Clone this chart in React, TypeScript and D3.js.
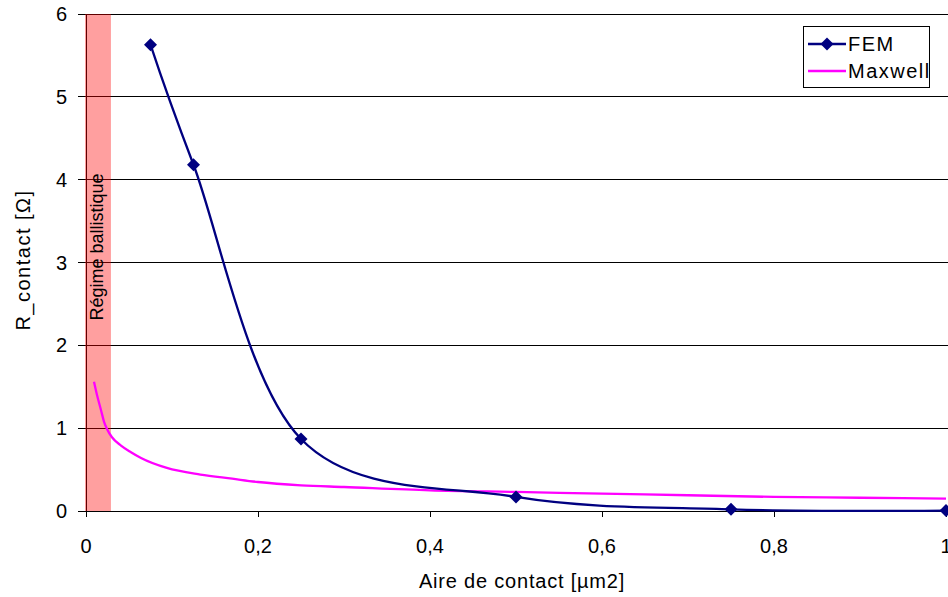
import React from "react";
import * as d3 from "d3";

const yTicks = [0, 1, 2, 3, 4, 5, 6];
const xTicks = [0, 0.2, 0.4, 0.6, 0.8, 1];
const xTickLabels = ["0", "0,2", "0,4", "0,6", "0,8", "1"];

const femX = [0.075, 0.125, 0.25, 0.5, 0.75, 1.0];
const femY = [5.63, 4.18, 0.87, 0.17, 0.02, 0.005];

const maxwellX = [0.0093, 0.0128, 0.0174, 0.0209, 0.0244, 0.0302, 0.0407, 0.0523, 0.064, 0.094, 0.133, 0.17, 0.2, 0.25, 0.3, 0.4, 0.5, 0.6, 0.7, 0.8, 0.9, 1.0];
const maxwellY = [1.56, 1.4, 1.22, 1.08, 0.99, 0.89, 0.79, 0.71, 0.64, 0.52, 0.44, 0.39, 0.35, 0.31, 0.29, 0.25, 0.23, 0.21, 0.19, 0.17, 0.16, 0.15];

const bandRange = [0, 0.029];

const seriesNames = ["FEM", "Maxwell"];
const xTitle = "Aire de contact [µm2]";
const yTitle = "R_contact [Ω]";
const bandLabel = "Régime ballistique";

const W = 948;
const H = 597;
const FONT = "'Liberation Sans', Arial, sans-serif";
const NAVY = "#000080";
const MAGENTA = "#FF00FF";

export default function App() {
  const x = d3.scaleLinear().domain([0, 1]).range([86, 946]);
  const y = d3.scaleLinear().domain([0, 6]).range([511, 14]);

  const fem = femX.map((v, i) => [v, femY[i]] as [number, number]);
  const maxwell = maxwellX.map((v, i) => [v, maxwellY[i]] as [number, number]);

  const femLine = d3
    .line<[number, number]>()
    .x((d) => x(d[0]))
    .y((d) => y(d[1]))
    .curve(d3.curveCardinal.tension(0));
  const maxLine = d3
    .line<[number, number]>()
    .x((d) => x(d[0]))
    .y((d) => y(d[1]))
    .curve(d3.curveMonotoneX);

  const diamond = (cx: number, cy: number, r = 6.5) =>
    `M${cx},${cy - r}L${cx + r},${cy}L${cx},${cy + r}L${cx - r},${cy}Z`;

  return (
    <svg
      width={W}
      height={H}
      style={{ position: "absolute", left: 0, top: 0, background: "#fff" }}
      fontFamily={FONT}
    >
      <rect x={0} y={0} width={W} height={H} fill="#fff" />
      {/* gridlines */}
      {yTicks.map((t) => (
        <line key={"g" + t} x1={x(0) - 8} x2={W} y1={y(t)} y2={y(t)} stroke="#000" strokeWidth={1} shapeRendering="crispEdges" />
      ))}
      {/* y axis */}
      <line x1={x(0)} x2={x(0)} y1={y(6)} y2={y(0)} stroke="#000" strokeWidth={1} shapeRendering="crispEdges" />
      {/* x ticks */}
      {xTicks.map((t) => (
        <line key={"xt" + t} x1={x(t)} x2={x(t)} y1={y(0)} y2={y(0) + 6} stroke="#000" strokeWidth={1} shapeRendering="crispEdges" />
      ))}
      {/* y tick labels */}
      {yTicks.map((t) => (
        <text key={"yl" + t} x={67} y={y(t) + 7} textAnchor="end" fontSize={20} fill="#000">
          {t}
        </text>
      ))}
      {/* x tick labels */}
      {xTicks.map((t, i) => (
        <text key={"xl" + t} x={x(t)} y={553} textAnchor="middle" fontSize={20} fill="#000">
          {xTickLabels[i]}
        </text>
      ))}
      {/* band */}
      <rect
        x={x(bandRange[0]) - 1}
        y={y(6)}
        width={x(bandRange[1]) - x(bandRange[0]) + 1}
        height={y(0) - y(6)}
        fill="rgb(255,0,0)"
        fillOpacity={0.375}
      />
      <text
        transform={`translate(103,247) rotate(-90)`}
        textAnchor="middle"
        fontSize={18}
        fill="#000"
      >
        {bandLabel}
      </text>
      {/* series */}
      <path d={maxLine(maxwell) || ""} fill="none" stroke={MAGENTA} strokeWidth={2.3} />
      <path d={femLine(fem) || ""} fill="none" stroke={NAVY} strokeWidth={2.3} />
      {fem.map((d, i) => (
        <path key={"m" + i} d={diamond(x(d[0]), y(d[1]))} fill={NAVY} />
      ))}
      {/* axis titles */}
      <text x={522} y={588} textAnchor="middle" fontSize={20} letterSpacing={0.8} fill="#000">
        {xTitle}
      </text>
      <text transform={`translate(30,260) rotate(-90)`} textAnchor="middle" fontSize={20} letterSpacing={1.5} fill="#000">
        {yTitle}
      </text>
      {/* legend */}
      <rect x={803.5} y={26.5} width={126} height={61} fill="#fff" stroke="#000" strokeWidth={1} />
      <line x1={808} x2={846} y1={44} y2={44} stroke={NAVY} strokeWidth={2.3} />
      <path d={diamond(827, 44)} fill={NAVY} />
      <text x={848} y={51} fontSize={20} letterSpacing={1.5} fill="#000">
        {seriesNames[0]}
      </text>
      <line x1={808} x2={846} y1={71} y2={71} stroke={MAGENTA} strokeWidth={2.3} />
      <text x={848} y={78} fontSize={20} letterSpacing={1.5} fill="#000">
        {seriesNames[1]}
      </text>
    </svg>
  );
}
